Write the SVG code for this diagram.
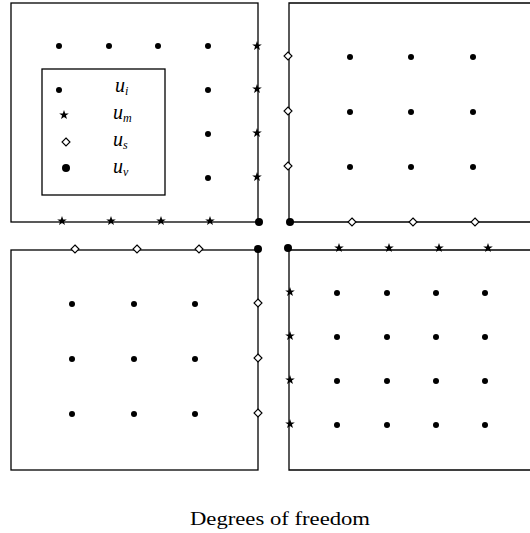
<svg xmlns="http://www.w3.org/2000/svg" xmlns:xlink="http://www.w3.org/1999/xlink" width="530" height="533" viewBox="0 0 530 533">
<style>
.box{fill:none;stroke:#000;stroke-width:1.3}
.lbl{font-family:"Liberation Serif","DejaVu Serif",serif;font-style:italic;font-size:20px;fill:#000}
.sub{font-size:12px}
.title{font-family:"Liberation Serif","DejaVu Serif",serif;font-size:18px;fill:#000}
</style>
<defs>
<circle id="d" r="3" fill="#000"/>
<circle id="D" r="4" fill="#000"/>
<path id="s" d="M0,-5 L1.2,-1.6 L4.8,-1.6 L1.9,0.6 L3,4 L0,1.9 L-3,4 L-1.9,0.6 L-4.8,-1.6 L-1.2,-1.6 Z" fill="#000"/>
<path id="m" d="M0,-4 L4,0 L0,4 L-4,0 Z" fill="#fff" stroke="#000" stroke-width="1.1"/>
</defs>
<g id="connectors">
<rect class="box" x="11" y="3" width="247" height="219"/>
<path class="box" d="M289,222 V3 H531 M289,222 H531"/>
<rect class="box" x="11" y="250" width="247" height="220"/>
<path class="box" d="M289,250 V470 H531 M289,250 H531"/>
</g>
<g id="node-topleft">
<use href="#d" x="59" y="46"/><use href="#d" x="109" y="46"/><use href="#d" x="158" y="46"/><use href="#d" x="208" y="46"/>
<use href="#d" x="208" y="90"/><use href="#d" x="208" y="134"/><use href="#d" x="208" y="178"/>
<use href="#s" x="257" y="46"/><use href="#s" x="257" y="89"/><use href="#s" x="257" y="133"/><use href="#s" x="257" y="177"/>
<use href="#s" x="62" y="221"/><use href="#s" x="111" y="221"/><use href="#s" x="161" y="221"/><use href="#s" x="210" y="221"/>
<use href="#D" x="259" y="222"/>
</g>
<g id="node-legend">
<rect class="box" x="42" y="69" width="123" height="126"/>
<use href="#d" x="59" y="90"/>
<use href="#s" x="64" y="115"/>
<use href="#m" x="66" y="142"/>
<use href="#D" x="66" y="168"/>
<text class="lbl" x="115" y="92">u<tspan class="sub" dy="3">i</tspan></text>
<text class="lbl" x="113" y="119">u<tspan class="sub" dy="3">m</tspan></text>
<text class="lbl" x="113" y="146">u<tspan class="sub" dy="3">s</tspan></text>
<text class="lbl" x="113" y="173">u<tspan class="sub" dy="3">ν</tspan></text>
</g>
<g id="node-topright">
<use href="#m" x="288" y="56"/><use href="#m" x="288" y="111"/><use href="#m" x="288" y="166"/>
<use href="#d" x="350" y="57"/><use href="#d" x="411" y="57"/><use href="#d" x="473" y="57"/>
<use href="#d" x="350" y="112"/><use href="#d" x="411" y="112"/><use href="#d" x="473" y="112"/>
<use href="#d" x="350" y="167"/><use href="#d" x="411" y="167"/><use href="#d" x="473" y="167"/>
<use href="#m" x="352" y="222"/><use href="#m" x="413" y="222"/><use href="#m" x="475" y="222"/>
<use href="#D" x="290" y="222"/>
</g>
<g id="node-bottomleft">
<use href="#m" x="75" y="249"/><use href="#m" x="137" y="249"/><use href="#m" x="199" y="249"/>
<use href="#D" x="258" y="249"/>
<use href="#d" x="72" y="304"/><use href="#d" x="134" y="304"/><use href="#d" x="195" y="304"/>
<use href="#d" x="72" y="359"/><use href="#d" x="134" y="359"/><use href="#d" x="195" y="359"/>
<use href="#d" x="72" y="414"/><use href="#d" x="134" y="414"/><use href="#d" x="195" y="414"/>
<use href="#m" x="258" y="303"/><use href="#m" x="258" y="358"/><use href="#m" x="258" y="413"/>
</g>
<g id="node-bottomright">
<use href="#D" x="288" y="248"/>
<use href="#s" x="339" y="248"/><use href="#s" x="389" y="248"/><use href="#s" x="439" y="248"/><use href="#s" x="488" y="248"/>
<use href="#s" x="290" y="292"/><use href="#s" x="290" y="336"/><use href="#s" x="290" y="380"/><use href="#s" x="290" y="424"/>
<use href="#d" x="337" y="293"/><use href="#d" x="387" y="293"/><use href="#d" x="436" y="293"/><use href="#d" x="485" y="293"/>
<use href="#d" x="337" y="337"/><use href="#d" x="387" y="337"/><use href="#d" x="436" y="337"/><use href="#d" x="485" y="337"/>
<use href="#d" x="337" y="381"/><use href="#d" x="387" y="381"/><use href="#d" x="436" y="381"/><use href="#d" x="485" y="381"/>
<use href="#d" x="337" y="425"/><use href="#d" x="387" y="425"/><use href="#d" x="436" y="425"/><use href="#d" x="485" y="425"/>
</g>
<text class="title" x="190" y="525" textLength="180" lengthAdjust="spacingAndGlyphs">Degrees of freedom</text>
</svg>
